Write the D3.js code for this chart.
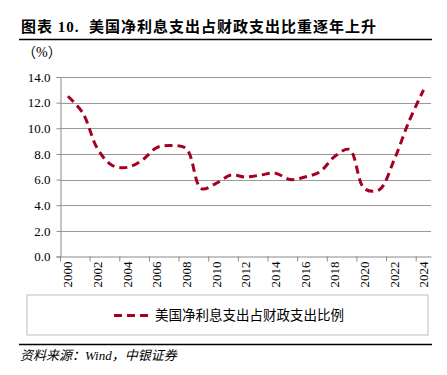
<!DOCTYPE html>
<html>
<head>
<meta charset="utf-8">
<script src="https://cdn.jsdelivr.net/npm/d3@7"></script>
<style>
  body { margin: 0; background: #fff; }
  text { font-family: "Liberation Serif", "Noto Sans CJK SC", serif; }
</style>
</head>
<body>
<div id="chart"></div>
<script>
var years = ["2000","2001","2002","2003","2004","2005","2006","2007","2008","2009","2010","2011","2012",
             "2013","2014","2015","2016","2017","2018","2019","2020","2021","2022","2023","2024"];
var ratio = [12.5, 11.2, 8.4, 7.1, 6.95, 7.5, 8.5, 8.65, 8.4, 5.3, 5.7, 6.35, 6.2,
             6.35, 6.5, 6.0, 6.2, 6.6, 7.8, 8.35, 5.3, 5.2, 7.5, 10.5, 13.0];
var yTicks = [0, 2, 4, 6, 8, 10, 12, 14];
var seriesName = "美国净利息支出占财政支出比例";

var width = 447, height = 375;
var plotLeft = 60.5, plotRight = 431, plotTop = 77, plotBottom = 256.5;
var red = "#a50021";

var svg = d3.select("#chart").append("svg")
    .attr("width", width)
    .attr("height", height);

// title and rules
svg.append("text")
    .attr("x", 21).attr("y", 32)
    .attr("font-size", 15).attr("font-weight", "bold")
    .attr("letter-spacing", 1)
    .text("图表 10.  美国净利息支出占财政支出比重逐年上升")
    .style("white-space", "pre");
svg.append("line")
    .attr("x1", 19).attr("x2", 432).attr("y1", 39.5).attr("y2", 39.5)
    .attr("stroke", "#000").attr("stroke-width", 1.5);

svg.append("text")
    .attr("x", 22).attr("y", 57)
    .attr("font-size", 14)
    .text("（%）");

var x = d3.scaleBand().domain(years).range([plotLeft, plotRight]);
var y = d3.scaleLinear().domain([0, 14]).range([plotBottom, plotTop]);

// grid
svg.append("g").selectAll("line")
    .data(yTicks.slice(1))
    .enter().append("line")
    .attr("x1", plotLeft).attr("x2", plotRight)
    .attr("y1", function(d) { return Math.round(y(d)) + 0.5; })
    .attr("y2", function(d) { return Math.round(y(d)) + 0.5; })
    .attr("stroke", "#9a9a9a").attr("stroke-width", 1);

// y axis
var yAxis = svg.append("g")
    .attr("transform", "translate(" + plotLeft + ",0)")
    .call(d3.axisLeft(y).tickValues(yTicks).tickFormat(d3.format(".1f")).tickSize(4));
yAxis.select(".domain").attr("stroke", "#8a8a8a");
yAxis.selectAll(".tick line").attr("stroke", "#8a8a8a");
yAxis.selectAll(".tick text")
    .attr("font-family", "Liberation Serif").attr("font-size", 13)
    .attr("fill", "#000").attr("x", -10);

// x axis
var xAxis = svg.append("g")
    .attr("transform", "translate(0," + plotBottom + ")")
    .call(d3.axisBottom(x).tickSize(0));
xAxis.select(".domain").attr("stroke", "#8a8a8a");
xAxis.selectAll(".tick text")
    .attr("font-family", "Liberation Serif").attr("font-size", 13).attr("fill", "#000")
    .attr("transform", "rotate(-90)")
    .attr("text-anchor", "end")
    .attr("x", -5).attr("y", 0).attr("dy", "0.35em")
    .style("display", function(d, i) { return i % 2 === 0 ? null : "none"; });

// tick marks between every second category
var step = x.step();
svg.append("g").selectAll("line")
    .data(d3.range(0, years.length + 1, 2))
    .enter().append("line")
    .attr("x1", function(i) { return plotLeft + i * step; })
    .attr("x2", function(i) { return plotLeft + i * step; })
    .attr("y1", plotBottom).attr("y2", plotBottom + 5)
    .attr("stroke", "#8a8a8a");

// line
var line = d3.line()
    .x(function(d, i) { return x(years[i]) + x.bandwidth() / 2; })
    .y(function(d) { return y(d); })
    .curve(d3.curveCatmullRom.alpha(0.5));

svg.append("path")
    .datum(ratio)
    .attr("d", line)
    .attr("fill", "none")
    .attr("stroke", red)
    .attr("stroke-width", 3)
    .attr("stroke-dasharray", "8,5");

// legend
svg.append("rect")
    .attr("x", 27).attr("y", 295).attr("width", 401).attr("height", 40)
    .attr("fill", "none").attr("stroke", "#bdbdbd");
svg.append("line")
    .attr("x1", 114).attr("x2", 152).attr("y1", 315.5).attr("y2", 315.5)
    .attr("stroke", red).attr("stroke-width", 3).attr("stroke-dasharray", "8,5");
svg.append("text")
    .attr("x", 155).attr("y", 320)
    .attr("font-size", 13.5)
    .text(seriesName);

// footer
svg.append("line")
    .attr("x1", 19).attr("x2", 432).attr("y1", 344.5).attr("y2", 344.5)
    .attr("stroke", "#000").attr("stroke-width", 1.5);
svg.append("text")
    .attr("x", 20).attr("y", 360)
    .attr("font-size", 13).attr("font-style", "italic")
    .text("资料来源：Wind，中银证券");
</script>
</body>
</html>
